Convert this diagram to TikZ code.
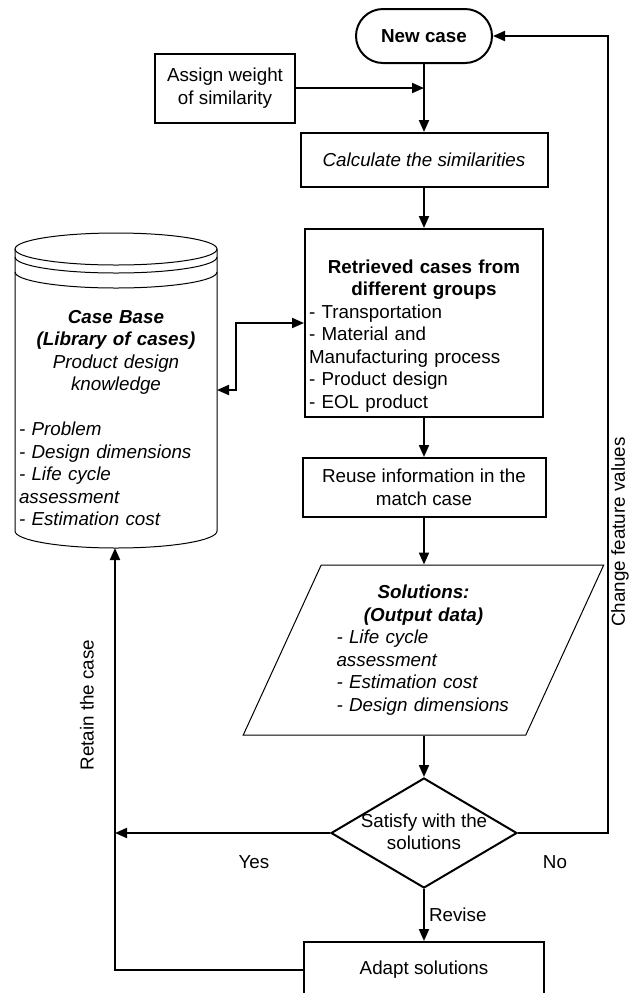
\documentclass[tikz,border=0pt]{standalone}
\usepackage{fontspec}
\setmainfont{Liberation Sans}
\setlength{\parindent}{0pt}
\usetikzlibrary{shapes,arrows.meta}

\begin{document}
\begin{tikzpicture}[x=0.5pt, y=-0.5pt,
    font=\fontsize{9.4}{11.25}\selectfont,
    >={Triangle[length=6pt,width=5pt]},
    box/.style={draw, line width=1pt, rectangle, align=center, inner sep=2pt},
    conn/.style={line width=1pt},
    thinline/.style={line width=0.5pt}]
  \useasboundingbox (0,0) rectangle (632,993);
  % main column
  \node[box, rounded corners=13.5pt, minimum width=68pt, minimum height=27pt] (new) at (424,36) {\bfseries New case};
  \node[box, minimum width=70pt, minimum height=34.5pt] (assign) at (225,88) {Assign weight\\of similarity};
  \node[box, minimum width=123.5pt, minimum height=27pt] (calc) at (424,160) {\itshape Calculate the similarities};
  \node[box, minimum width=119pt, minimum height=94pt] (retr) at (424,323) {};
  \node[text width=115pt, inner sep=0pt] (retrtxt) at (424,336)
    {{\centering\bfseries Retrieved cases from\\ different groups\par}
     - Transportation\\ - Material and\\ Manufacturing process\\ - Product design\\ - EOL product};
  \node[box, minimum width=121.5pt, minimum height=29.5pt] (reuse) at (424,487.5) {Reuse information in the\\match case};
  \node[draw, thinline, trapezium, trapezium left angle=63, trapezium right angle=117,
        trapezium stretches=true, minimum width=180.5pt, minimum height=85pt,
        text width=87pt, inner sep=0pt] (sol) at (423.5,650)
    {{\centering\bfseries\itshape Solutions:\\ (Output data)\par}
     \itshape - Life cycle\\ assessment\\ - Estimation cost\\ - Design dimensions};
  \node[draw, line width=1pt, diamond, minimum width=93pt, minimum height=55pt, inner sep=0pt] (dec) at (424,833) {};
  \node[align=center, inner sep=0pt] (dectxt) at (424,832) {Satisfy with the\\solutions};
  \node[box, minimum width=120pt, minimum height=27.5pt] (adapt) at (424,969.5) {Adapt solutions};

  % case base
  \draw[thinline] (116,249) ellipse [x radius=50.5pt, y radius=8pt];
  \draw[thinline] (15,257) arc[start angle=180, end angle=360, x radius=50.5pt, y radius=8pt];
  \draw[thinline] (15,272) arc[start angle=180, end angle=360, x radius=50.5pt, y radius=8pt];
  \draw[thinline] (15,249) -- (15,531) arc[start angle=180, end angle=360, x radius=50.5pt, y radius=8.5pt] -- (217,249);
  \coordinate (cbin) at (217,390);
  \coordinate (cbbot) at (116,548);
  \node[text width=97pt, inner sep=0pt] (cbtxt) at (116,418)
    {{\centering\bfseries\itshape Case Base\\ (Library of cases)\\ \mdseries Product design\\ knowledge\\ \mbox{}\par}
     \itshape - Problem\\ - Design dimensions\\ - Life cycle\\ assessment\\ - Estimation cost};

  % labels
  \node (yes) at (254,862) {Yes};
  \node (no) at (555,862) {No};
  \node[rotate=90] (change) at (620,532) {Change feature values};
  \node[rotate=90] (retain) at (87,705) {Retain the case};

  % connectors
  \draw[conn, ->] (new) -- (calc);
  \draw[conn, ->] (assign) -- (assign -| new);
  \draw[conn, ->] (calc) -- (retr);
  \draw[conn, <->] (cbin) -- (236,390) |- (retr);
  \draw[conn, ->] (retr) -- (reuse);
  \draw[conn, ->] (reuse) -- (reuse |- sol.north);
  \draw[conn, ->] (sol.south -| dec.north) -- (dec.north);
  \draw[conn, ->] (dec) -- node[right, inner sep=2pt] (revise) {Revise} (adapt);
  \draw[conn, ->] (dec.east) -- ++(90,0) |- (new);
  \draw[conn, ->] (adapt.west) -- ++(-188,0) coordinate (back) -- (back |- cbbot);
  \draw[conn, ->] (dec.west) -- (dec.west -| back);
\end{tikzpicture}
\end{document}
